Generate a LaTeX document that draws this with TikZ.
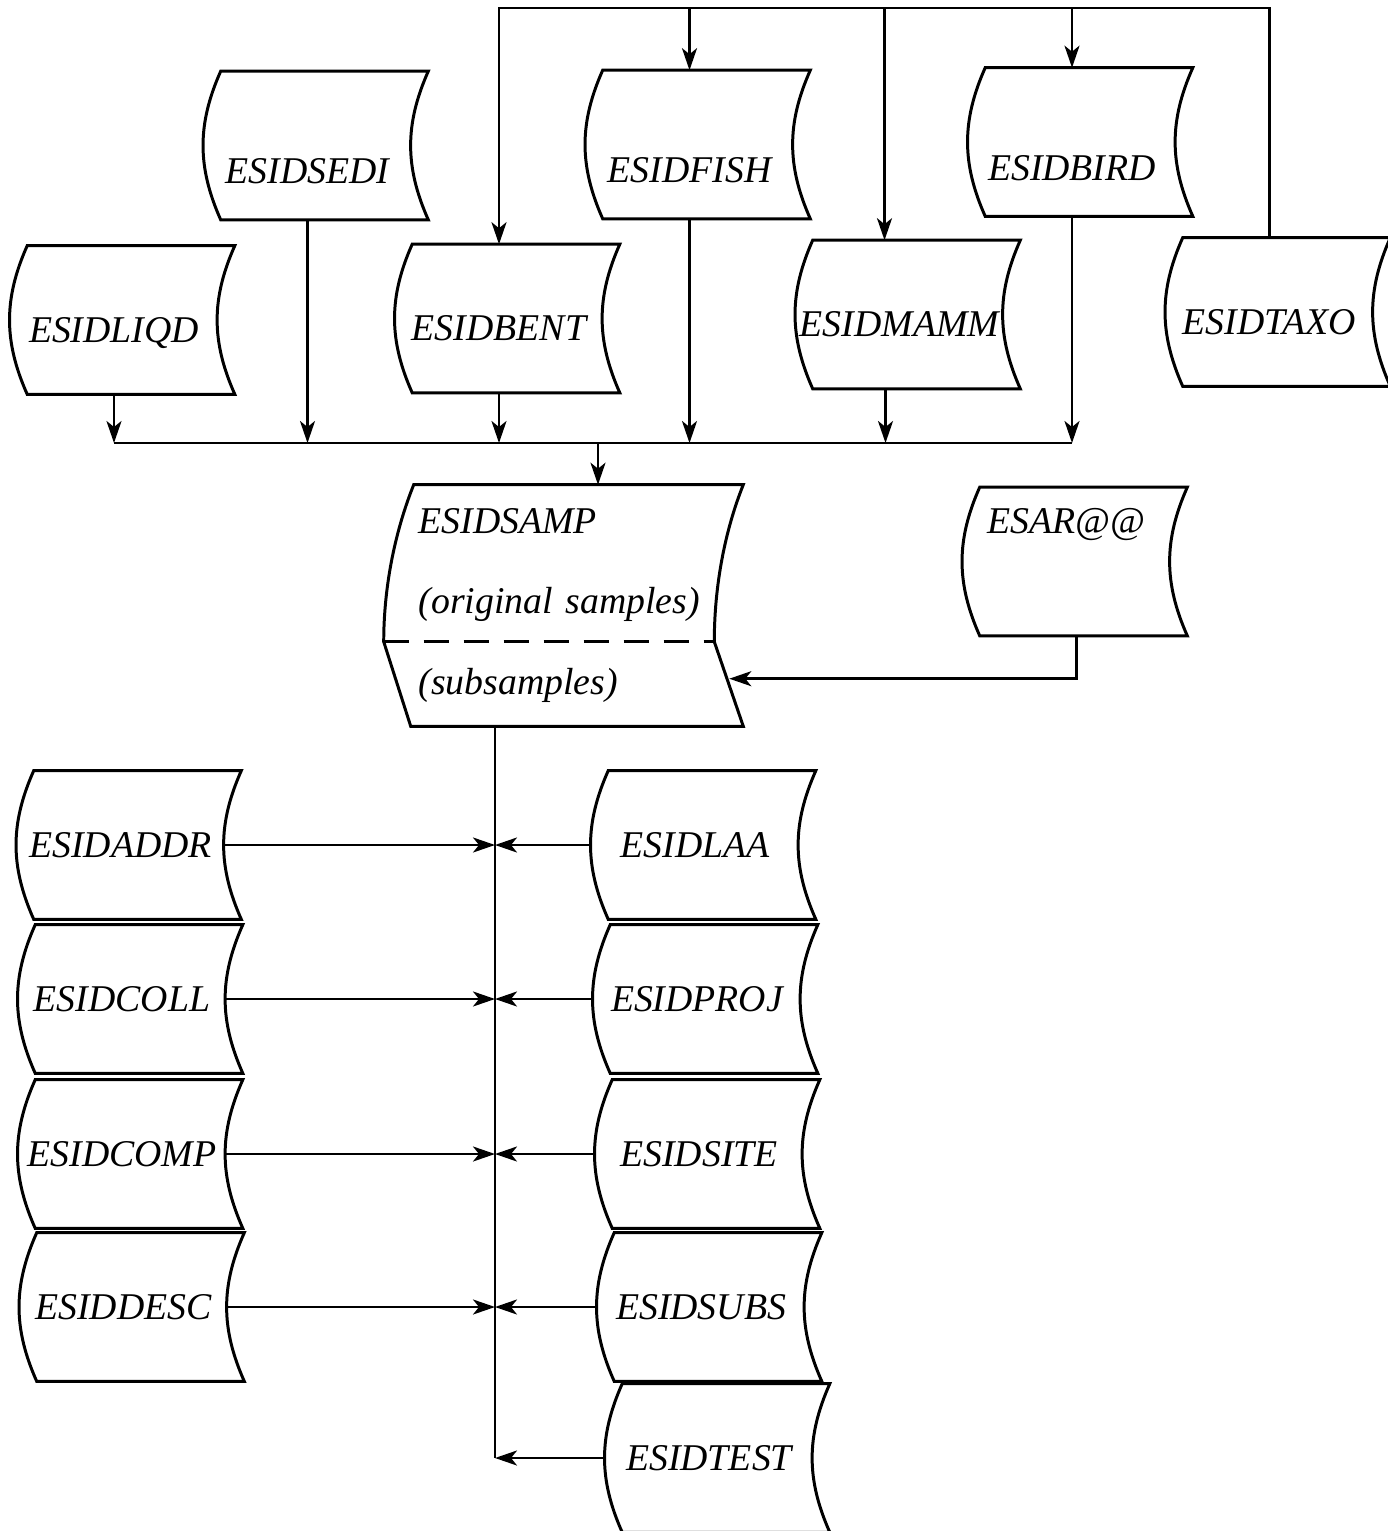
\documentclass[tikz,border=0pt]{standalone}
\usepackage{fontspec}
\setmainfont{Liberation Serif}
\usetikzlibrary{arrows.meta,calc,positioning}

\begin{document}
\begin{tikzpicture}[x=0.02cm,y=-0.02cm,line width=1.5pt,
  esid/.style={inner sep=0pt,minimum width=4.1cm,minimum height=2.92cm,
    font=\fontsize{21.5}{46}\selectfont\itshape},
  lowtext/.style={text height=1.54cm,text depth=0cm},
  midtext/.style={text height=0.9cm,text depth=0cm},
  hightext/.style={text height=0.5cm,text depth=1.64cm},
  flow/.style={-{Stealth[length=0.44cm,width=0.3cm,inset=0.12cm]}}]
\useasboundingbox (0,0) rectangle (1388,1531);
% upper row
\node[esid,lowtext] (sedi) at (307.5,145.5) {ESIDSEDI};
\node[esid,lowtext] (fish) at (689.5,144.5) {ESIDFISH};
\node[esid,lowtext] (bird) at (1072,142) {ESIDBIRD};
% second row
\node[esid,midtext] (liqd) at (114,320) {ESIDLIQD};
\node[esid,midtext] (bent) at (499,318.5) {ESIDBENT};
\node[esid,midtext] (mamm) at (899.5,314.5) {ESIDMAMM};
\node[esid,midtext] (taxo) at (1269.5,312) {ESIDTAXO};
% samples
\node[esid,minimum width=7.14cm,minimum height=4.78cm,text width=5.8cm,align=left]
  (samp) at (563.5,605.5) {ESIDSAMP\\(original samples)\\(subsamples)};
\node[esid,hightext] (esar) at (1066.5,561.5) {ESAR@@};
% left column
\node[esid] (addr) at (120.5,845) {ESIDADDR};
\node[esid] (coll) at (122,999) {ESIDCOLL};
\node[esid] (comp) at (122,1154) {ESIDCOMP};
\node[esid] (desc) at (123.5,1307) {ESIDDESC};
% right column
\node[esid] (laa) at (695,845) {ESIDLAA};
\node[esid] (proj) at (697,999) {ESIDPROJ};
\node[esid] (site) at (699,1154) {ESIDSITE};
\node[esid] (subs) at (701,1307) {ESIDSUBS};
\node[esid] (test) at (709,1458) {ESIDTEST};

% file outlines
\foreach \n in {sedi,fish,bird,liqd,bent,mamm,taxo,esar,addr,coll,comp,desc,laa,proj,site,subs,test}
  \draw[line width=1.7pt] ($(\n.north west)+(17,0)$) -- ($(\n.north east)+(17,0)$)
    to[bend right=24] ($(\n.south east)+(17,0)$) -- ($(\n.south west)+(17,0)$)
    to[bend left=24] ($(\n.north west)+(17,0)$) -- cycle;
\draw[line width=1.7pt] ($(samp.north west)+(30,0)$) -- (samp.north east)
  .. controls ($(samp.north east)+(-18,45)$) and ($(samp.north east)+(-29,100)$) .. ($(samp.north east)+(-29,157)$) coordinate (samp-r)
  -- (samp.south east) -- ($(samp.south west)+(27,0)$)
  -- ($(samp.north west)+(0,157)$) coordinate (samp-l)
  .. controls ($(samp.north west)+(0,100)$) and ($(samp.north west)+(12,45)$) .. ($(samp.north west)+(30,0)$) -- cycle;
\draw[dash pattern=on 0.5cm off 0.3cm] (samp-l) -- (samp-r);

% connectors
\coordinate (topline) at (700,8);
\coordinate (bus) at (598,443);
\coordinate (trunk) at (495,1458);
\coordinate (mamm-in) at ([xshift=-0.3cm]mamm.north);
\coordinate (mamm-out) at ([xshift=-0.28cm]mamm.south);
\coordinate (esar-out) at ([xshift=0.2cm]esar.south);
\coordinate (samp-in) at ($(samp.north east)+(-14,194)$);

\draw[flow] (taxo.north) |- (topline) -| (bent.north);
\draw[flow] (fish.north |- topline) -- (fish.north);
\draw[flow] (mamm-in |- topline) -- (mamm-in);
\draw[flow] (bird.north |- topline) -- (bird.north);

\foreach \n in {liqd,sedi,bent,fish,bird}
  \draw[flow] (\n.south) -- (\n.south |- bus);
\draw[flow] (mamm-out) -- (mamm-out |- bus);
\draw (liqd.south |- bus) -- (bird.south |- bus);
\draw[flow] (bus) -- (bus |- samp.north);

\draw[flow] (esar-out) |- (samp-in);

\draw (samp.south -| trunk) -- (trunk);
\draw[flow] (test.west) -- (trunk);
\foreach \n in {addr,coll,comp,desc}
  \draw[flow] (\n.east) -- (\n.east -| trunk);
\foreach \n in {laa,proj,site,subs}
  \draw[flow] (\n.west) -- (\n.west -| trunk);
\end{tikzpicture}
\end{document}
